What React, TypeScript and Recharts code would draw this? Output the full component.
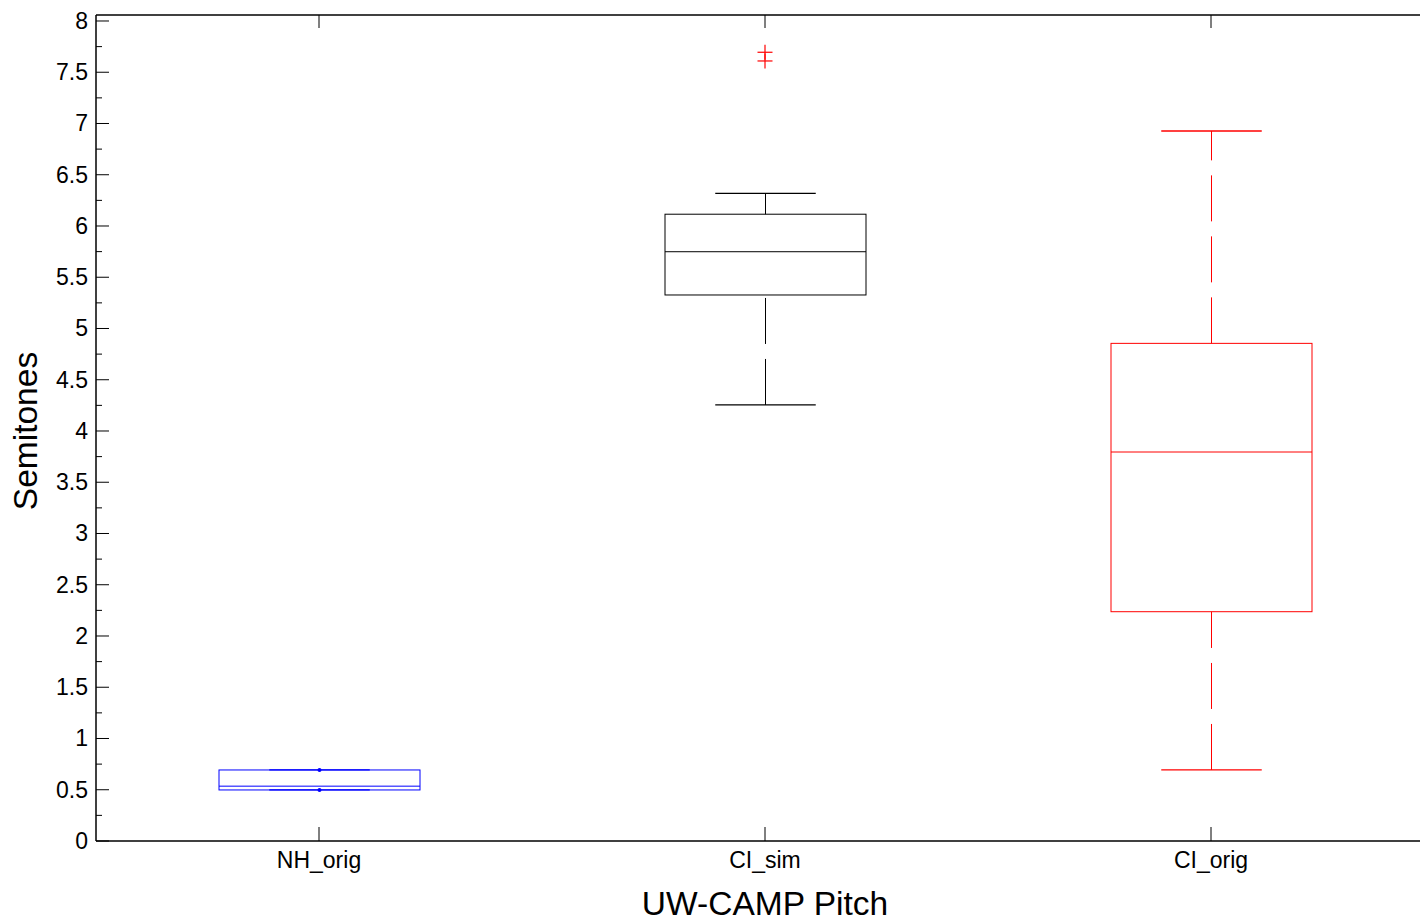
import React from 'react';
import { ComposedChart, Bar, Line, XAxis, YAxis, Label } from 'recharts';

const categories = ['NH_orig', 'CI_sim', 'CI_orig'];
const whiskerLow = [0.498, 4.254, 0.693];
const quartile1 = [0.498, 5.327, 2.237];
const medians = [0.535, 5.749, 3.795];
const quartile3 = [0.693, 6.115, 4.855];
const whiskerHigh = [0.693, 6.319, 6.927];
const outlierA: (number | null)[] = [null, 7.695, null];
const outlierB: (number | null)[] = [null, 7.61, null];

const majorTicks = [0, 0.5, 1, 1.5, 2, 2.5, 3, 3.5, 4, 4.5, 5, 5.5, 6, 6.5, 7, 7.5, 8];
const majorLabels = ['0', '0.5', '1', '1.5', '2', '2.5', '3', '3.5', '4', '4.5', '5', '5.5', '6', '6.5', '7', '7.5', '8'];
const minorTicks = [0.25, 0.75, 1.25, 1.75, 2.25, 2.75, 3.25, 3.75, 4.25, 4.75, 5.25, 5.75, 6.25, 6.75, 7.25, 7.75];
const yDomainMax = 8.0585;

// styles (kept apart from data)
const COLORS = ['#0000ff', '#000000', '#ff0000'];
const END_DOTS = [true, false, false];
const OUTLIER_COLOR = '#ff0000';
const FONT = '"Liberation Sans", Arial, Helvetica, sans-serif';

const data = categories.map((name, i) => ({
  name,
  low: whiskerLow[i],
  q1: quartile1[i],
  median: medians[i],
  q3: quartile3[i],
  high: whiskerHigh[i],
  outA: outlierA[i],
  outB: outlierB[i],
}));

const allTicks = [...majorTicks, ...minorTicks].sort((a, b) => a - b);

const BoxShape = (props: any) => {
  const { x, y, width, height, payload } = props;
  if (payload == null) return null;
  const idx = categories.indexOf(payload.name);
  const color = COLORS[idx];
  const top = Math.min(y, y + height);
  const bot = Math.max(y, y + height);
  const lo = payload.low;
  const hi = payload.high;
  const py = (v: number) => bot - ((v - lo) / (hi - lo)) * (bot - top);
  const cx = x + width / 2;
  const capHalf = width / 4;
  const dash = '46 15';
  return (
    <g>
      <line x1={cx} x2={cx} y1={py(lo)} y2={py(payload.q1)} stroke={color} strokeWidth={1} strokeDasharray={dash} />
      <line x1={cx} x2={cx} y1={py(payload.q3)} y2={py(hi)} stroke={color} strokeWidth={1} strokeDasharray={dash} />
      <rect x={x} y={py(payload.q3)} width={width} height={py(payload.q1) - py(payload.q3)} fill="none" stroke={color} strokeWidth={1} />
      <line x1={x} x2={x + width} y1={py(payload.median)} y2={py(payload.median)} stroke={color} strokeWidth={1} />
      <line x1={cx - capHalf} x2={cx + capHalf} y1={py(lo)} y2={py(lo)} stroke={color} strokeWidth={1.3} />
      <line x1={cx - capHalf} x2={cx + capHalf} y1={py(hi)} y2={py(hi)} stroke={color} strokeWidth={1.3} />
      {END_DOTS[idx] && <circle cx={cx} cy={py(lo)} r={2} fill={color} />}
      {END_DOTS[idx] && <circle cx={cx} cy={py(hi)} r={2} fill={color} />}
    </g>
  );
};

const PlusDot = (props: any) => {
  const { cx, cy, value } = props;
  if (value == null || cy == null || cx == null) return <g />;
  const s = 7.5;
  return (
    <g>
      <line x1={cx - s} x2={cx + s} y1={cy} y2={cy} stroke={OUTLIER_COLOR} strokeWidth={1.2} />
      <line x1={cx} x2={cx} y1={cy - s} y2={cy + s} stroke={OUTLIER_COLOR} strokeWidth={1.2} />
    </g>
  );
};

const YTick = (props: any) => {
  const { x, y, payload } = props;
  const v = payload.value;
  const mi = majorTicks.indexOf(v);
  const isMajor = mi >= 0;
  return (
    <g>
      <line x1={x} x2={x + (isMajor ? 13 : 6)} y1={y} y2={y} stroke="#000" strokeWidth={1} />
      {isMajor && (
        <text x={x - 8} y={y + 8} textAnchor="end" fontSize={23} fontFamily={FONT} fill="#000">
          {majorLabels[mi]}
        </text>
      )}
    </g>
  );
};

const XTick = (props: any) => {
  const { x, y, payload } = props;
  return (
    <g>
      <line x1={x} x2={x} y1={y} y2={y - 14} stroke="#000" strokeWidth={1} />
      <text x={x} y={y + 27} textAnchor="middle" fontSize={23} fontFamily={FONT} fill="#000">
        {payload.value}
      </text>
    </g>
  );
};

const TopTick = (props: any) => {
  const { x, y } = props;
  return <line x1={x} x2={x} y1={y} y2={y + 13} stroke="#000" strokeWidth={1} />;
};

const YTitle = (props: any) => {
  const vb = props.viewBox || { x: 0, y: 15, width: 96, height: 826 };
  const cx = 37;
  const cy = vb.y + vb.height / 2 + 3;
  return (
    <text x={cx} y={cy} transform={`rotate(-90, ${cx}, ${cy})`} textAnchor="middle" fontSize={33.5} fontFamily={FONT} fill="#000">
      Semitones
    </text>
  );
};

export default function App() {
  return (
    <div style={{ position: 'absolute', left: 0, top: 0, width: 1420, height: 922, overflow: 'hidden', background: '#fff' }}>
      <ComposedChart width={1440} height={922} data={data} margin={{ top: 14, right: 6, bottom: 0, left: 0 }}>
        <XAxis
          xAxisId="t"
          orientation="top"
          dataKey="name"
          height={1}
          axisLine={{ stroke: '#000', strokeWidth: 1.5 }}
          tickLine={false}
          tickSize={0}
          tickMargin={0}
          interval={0}
          tick={<TopTick />}
        />
        <XAxis
          xAxisId="b"
          dataKey="name"
          height={81}
          axisLine={{ stroke: '#000', strokeWidth: 1.5 }}
          tickLine={false}
          tickSize={0}
          tickMargin={0}
          interval={0}
          tick={<XTick />}
        >
          <Label value="UW-CAMP Pitch" position="insideBottom" offset={7} fontSize={33.5} fontFamily={FONT} fill="#000" />
        </XAxis>
        <YAxis
          width={96}
          type="number"
          domain={[0, yDomainMax]}
          ticks={allTicks}
          interval={0}
          allowDataOverflow
          axisLine={{ stroke: '#000', strokeWidth: 1.5 }}
          tickLine={false}
          tickSize={0}
          tickMargin={0}
          tick={<YTick />}
        >
          <Label content={<YTitle />} />
        </YAxis>
        <Bar
          xAxisId="b"
          dataKey={(d: any) => [d.low, d.high]}
          barSize={201}
          shape={(p: any) => <BoxShape {...p} />}
          isAnimationActive={false}
        />
        <Line xAxisId="b" dataKey="outA" stroke="none" dot={<PlusDot />} activeDot={false} isAnimationActive={false} />
        <Line xAxisId="b" dataKey="outB" stroke="none" dot={<PlusDot />} activeDot={false} isAnimationActive={false} />
      </ComposedChart>
    </div>
  );
}
